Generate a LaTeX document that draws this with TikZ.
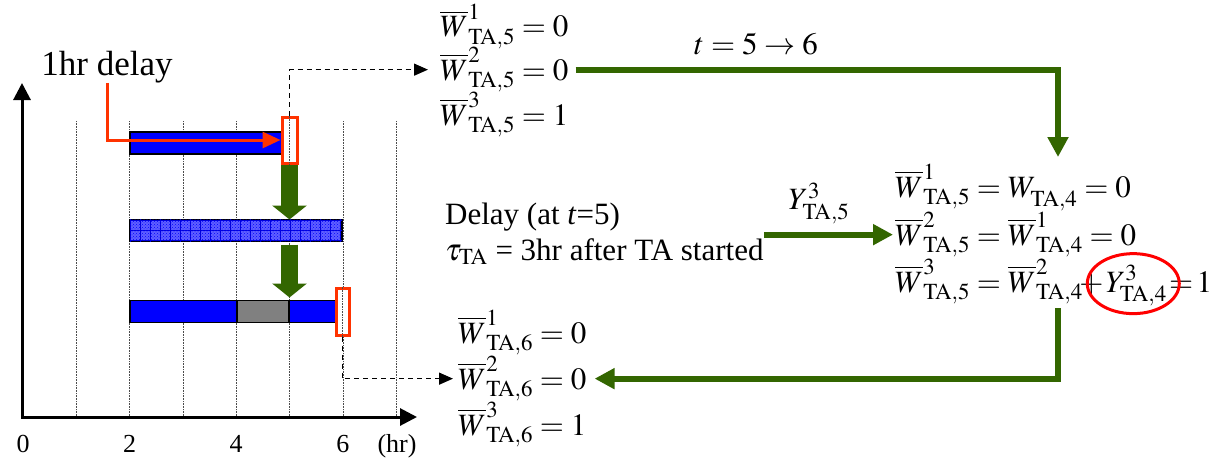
\documentclass[tikz,border=0pt]{standalone}
\usepackage{mathptmx}
\usepackage{fontspec}
\setmainfont{Liberation Serif}
\usepackage{xcolor}
\usepackage{tikz}
\usetikzlibrary{arrows.meta, positioning, patterns, patterns.meta}

\definecolor{flowgreen}{RGB}{51,102,0}
\definecolor{delayred}{RGB}{255,51,0}
\definecolor{barblue}{RGB}{0,0,255}
\definecolor{hatchblue}{RGB}{95,95,255}

\tikzset{
  bar/.style={draw=black, line width=1.5pt, fill=barblue, minimum height=22pt,
    inner sep=0pt, outer sep=0pt, anchor=west},
  slot/.style={draw=delayred, line width=3pt, fill=white, inner sep=0pt},
  gridline/.style={densely dotted, line width=0.6pt, black!70},
  axis/.style={line width=3pt, {Triangle[length=17pt,width=17pt]}-{Triangle[length=17pt,width=17pt]}},
  blockarrow/.style={draw=flowgreen, line width=17pt, -{Triangle[length=14pt,width=34pt]}},
  flow/.style={draw=flowgreen, line width=6pt, -{Triangle[length=20pt,width=20pt]}},
  redarrow/.style={draw=delayred, line width=3pt, -{Triangle[length=18pt,width=16pt]}},
  link/.style={dash pattern=on 5pt off 4pt, line width=1.3pt, -{Triangle[length=14pt,width=12pt]}},
  txt/.style={anchor=base west, inner sep=0pt, font=\fontsize{31}{36}\selectfont},
  ticklabel/.style={anchor=base, inner sep=0pt, font=\fontsize{26}{30}\selectfont},
}

\begin{document}
\begin{tikzpicture}[x=1pt, y=-1pt]
  \useasboundingbox (0,0) rectangle (1222,460);

  % time axis
  \foreach \h in {1,...,7}
    \draw[gridline] ({23+53.3*\h},121) -- ({23+53.3*\h},417);
  \coordinate (ytop) at (22,83);
  \coordinate (origin) at (22,417);
  \coordinate (xend) at (417,417);
  \draw[axis] (ytop) -- (origin) -- (xend);
  \foreach \h in {0,2,4,6}
    \node[ticklabel] (tick\h) at ({23+53.3*\h},452) {\h};
  \node[ticklabel] (unit) at (397,452) {(hr)};

  % schedule bars
  \node[bar, minimum width=159pt] (bar1) at (130,143) {};
  \node[bar, minimum width=212pt, fill=hatchblue,
    postaction={pattern={Hatch[angle=0, distance=10pt, line width=0.8pt]}, pattern color=blue!85!black},
    postaction={pattern=crosshatch dots, pattern color=blue}] (bar2) at (130,230.5) {};
  \node[bar, minimum width=107pt] (seg1) at (130,311.5) {};
  \node[bar, minimum width=52pt, fill=gray, right=0pt of seg1] (seg2) {};
  \node[bar, minimum width=53pt, right=0pt of seg2] (seg3) {};

  \node[slot, minimum width=15pt, minimum height=46pt] (slot1) at (289.5,140) {};
  \node[slot, minimum width=13pt, minimum height=47pt] (slot2) at (342.5,311.5) {};
  \draw[gridline] (slot1.north) -- (slot1.south);
  \draw[gridline] (slot2.north) -- (slot2.south);

  \node[txt, anchor=base, font=\fontsize{35}{40}\selectfont] (delaynote) at (107,75) {1hr delay};
  \draw[redarrow] (delaynote.south) |- (slot1.west);

  \draw[blockarrow] (slot1.south) -- (slot1.south |- bar2.north);
  \draw[blockarrow, shorten <=3pt, shorten >=3pt] (slot1.south |- bar2.south) -- (slot1.south |- seg2.north);

  % state at t=5 (before)
  \node[txt] (w51) at (440,37) {$\overline{W}^{1}_{\mathrm{TA},5}=0$};
  \node[txt] (w52) at (440,80) {$\overline{W}^{2}_{\mathrm{TA},5}=0$};
  \node[txt] (w53) at (440,125) {$\overline{W}^{3}_{\mathrm{TA},5}=1$};

  % delay event
  \node[txt] (delayat) at (445,224) {Delay (at \textit{t}=5)};
  \node[txt] (tau) at (445,260) {$\tau_{\mathrm{TA}}$ = 3hr after TA started};

  % state at t=5 (after)
  \node[txt] (r1) at (895,197) {$\overline{W}^{1}_{\mathrm{TA},5}=W^{\vphantom{1}}_{\mathrm{TA},4}=0$};
  \node[txt] (r2) at (895,245) {$\overline{W}^{2}_{\mathrm{TA},5}=\overline{W}^{1}_{\mathrm{TA},4}=0$};
  \node[txt] (r3) at (895,292) {$\overline{W}^{3}_{\mathrm{TA},5}=\overline{W}^{2}_{\mathrm{TA},4}\mkern-2mu+$};
  \node[txt] (r3y) at ([xshift=2pt]r3.base east) {$Y^{3}_{\mathrm{TA},4}$};
  \node[txt] (r3end) at ([xshift=2pt]r3y.base east) {$=\mkern-2mu1$};
  \draw[red, line width=3pt] ([xshift=-3pt,yshift=2pt]r3y.center) ellipse [x radius=46pt, y radius=30pt];

  % state at t=6
  \node[txt] (w61) at (458,343) {$\overline{W}^{1}_{\mathrm{TA},6}=0$};
  \node[txt] (w62) at (458,389) {$\overline{W}^{2}_{\mathrm{TA},6}=0$};
  \node[txt] (w63) at (458,435) {$\overline{W}^{3}_{\mathrm{TA},6}=1$};

  % connectors
  \draw[link, shorten >=12pt] (slot1.north) |- (w52.west);
  \draw[link, shorten >=5pt] (slot2.south) |- (w62.west);

  \node[txt, anchor=base] (steplabel) at (756,55) {$t=5\rightarrow 6$};
  \coordinate (drop1) at (1058,157);
  \draw[flow, shorten <=7pt] (w52.east) -| (drop1);

  \draw[flow, shorten >=2pt] (tau.east |- r2.west) -- node[pos=0.42, above=8pt, inner sep=0pt, font=\fontsize{31}{36}\selectfont] (ylabel) {$Y^{3}_{\mathrm{TA},5}$} (r2.west);

  \coordinate (rise2) at (1058,308);
  \draw[flow, shorten >=8pt] (rise2) |- (w62.east);
\end{tikzpicture}
\end{document}
